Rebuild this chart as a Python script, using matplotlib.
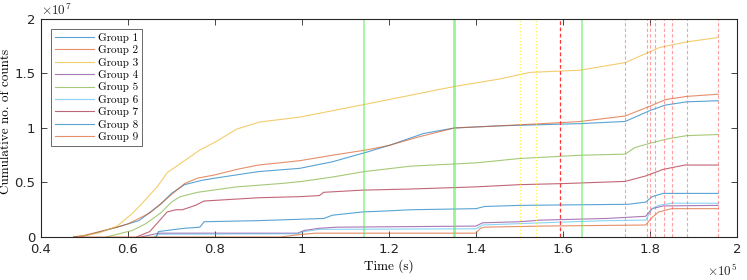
import matplotlib.pyplot as plt
from matplotlib.ticker import FuncFormatter
import numpy as np

# ---------------------------------------------------------------------------
# Data (time in s, cumulative counts)
t1 = [47500, 50000, 57500, 62500, 67500, 70000, 73000, 77000, 80000, 90000, 99500,
      107000, 115000, 120000, 128000, 135000, 145500, 164000, 174300, 180000,
      183500, 188500, 195700]
c1 = [0, 0.1e6, 0.9e6, 1.5e6, 3.0e6, 4.0e6, 4.8e6, 5.2e6, 5.4e6, 6.0e6, 6.3e6,
      6.9e6, 7.8e6, 8.4e6, 9.5e6, 10.0e6, 10.2e6, 10.4e6, 10.6e6, 11.6e6,
      12.1e6, 12.4e6, 12.5e6]

t2 = [47500, 50000, 57500, 60000, 65000, 70000, 73000, 76000, 80000, 85000, 90000,
      99500, 107000, 115000, 120000, 127000, 135000, 145500, 160000, 164000,
      174300, 180000, 183500, 188500, 195700]
c2 = [0, 0.15e6, 0.9e6, 1.2e6, 2.2e6, 3.9e6, 4.9e6, 5.4e6, 5.7e6, 6.2e6, 6.6e6,
      7.0e6, 7.5e6, 8.0e6, 8.4e6, 9.2e6, 10.0e6, 10.2e6, 10.5e6, 10.6e6,
      11.1e6, 12.0e6, 12.6e6, 12.9e6, 13.1e6]

t3 = [48500, 53600, 57500, 61100, 62800, 66700, 69000, 76600, 80000, 85000, 90300,
      99500, 114900, 134900, 145500, 152400, 163900, 174300, 182300, 188500, 195600]
c3 = [0, 0.4e6, 1.0e6, 2.2e6, 2.9e6, 4.6e6, 5.9e6, 8.0e6, 8.7e6, 9.9e6, 10.55e6,
      11.0e6, 12.2e6, 13.8e6, 14.5e6, 15.1e6, 15.3e6, 16.0e6, 17.4e6, 17.9e6, 18.3e6]

t4 = [63000, 67000, 99000, 100500, 104000, 108000, 140000, 141500, 150000, 155000,
      170000, 179000, 180500, 183000, 195700]
c4 = [0, 0.35e6, 0.35e6, 0.6e6, 0.8e6, 0.9e6, 1.0e6, 1.3e6, 1.4e6, 1.55e6,
      1.7e6, 1.9e6, 2.6e6, 2.85e6, 2.9e6]

t5 = [55000, 61000, 64000, 67500, 70000, 72000, 76000, 85000, 95000, 100000, 107000,
      114300, 125000, 140000, 150000, 164000, 174300, 176500, 180000, 184000,
      188500, 195700]
c5 = [0, 0.6e6, 1.2e6, 2.2e6, 3.2e6, 3.7e6, 4.1e6, 4.6e6, 4.9e6, 5.1e6, 5.5e6,
      6.0e6, 6.5e6, 6.8e6, 7.2e6, 7.5e6, 7.6e6, 8.2e6, 8.6e6, 9.0e6,
      9.3e6, 9.4e6]

t6 = [66000, 67000, 99000, 100500, 104000, 140000, 141500, 155000, 170000, 179000,
      180500, 182000, 185000, 195700]
c6 = [0, 0.25e6, 0.3e6, 0.5e6, 0.7e6, 0.75e6, 1.1e6, 1.3e6, 1.5e6, 1.55e6,
      2.6e6, 2.9e6, 3.1e6, 3.1e6]

t7 = [62000, 65000, 67000, 69000, 71000, 72500, 75500, 77500, 90000, 99500, 104000,
      105000, 114000, 125000, 140000, 150000, 160000, 174300, 179000, 183000,
      188000, 195700]
c7 = [0, 0.5e6, 1.4e6, 2.3e6, 2.5e6, 2.5e6, 2.9e6, 3.3e6, 3.6e6, 3.7e6, 3.8e6,
      4.1e6, 4.3e6, 4.4e6, 4.6e6, 4.8e6, 4.9e6, 5.1e6, 5.6e6, 6.2e6,
      6.6e6, 6.6e6]

t8 = [66500, 67000, 73000, 76500, 77500, 90000, 105000, 107000, 114000, 120000,
      125000, 140000, 142000, 150000, 175000, 179000, 180500, 183000, 195700]
c8 = [0, 0.5e6, 0.8e6, 0.9e6, 1.4e6, 1.5e6, 1.7e6, 2.0e6, 2.3e6, 2.4e6,
      2.5e6, 2.6e6, 2.8e6, 2.9e6, 3.0e6, 3.2e6, 3.7e6, 4.0e6, 4.0e6]

t9 = [47500, 95000, 99000, 103000, 140000, 141000, 142000, 155000, 179000, 180500,
      182000, 185000, 195700]
c9 = [0, 0, 0.2e6, 0.35e6, 0.35e6, 0.8e6, 0.9e6, 1.0e6, 1.1e6, 1.8e6,
      2.3e6, 2.6e6, 2.6e6]

times = [t1, t2, t3, t4, t5, t6, t7, t8, t9]
counts = [c1, c2, c3, c4, c5, c6, c7, c8, c9]
labels = ['Group %d' % i for i in range(1, 10)]

# Event markers (s)
green_events = [114300, 134900, 164400]
yellow_events = [150200, 153900]
red_event = [159400]
red_light_events = [174300, 179200, 180100, 181200, 183300, 185100, 188600, 195700]

# ---------------------------------------------------------------------------
# Plot
plt.rcParams['mathtext.fontset'] = 'cm'
plt.rcParams['font.family'] = 'DejaVu Sans'
serif = 'cmr10'

colors = ['#0072BD', '#D95319', '#EDB120', '#7E2F8E', '#77AC30',
          '#4DBEEE', '#A2142F', '#0072BD', '#D95319']

fig = plt.figure(figsize=(7.47, 2.8), dpi=100)
ax = fig.add_axes([0.0549, 0.1536, 0.9317, 0.7786])

for t, c, col, lab in zip(times, counts, colors, labels):
    ax.plot(t, c, color=col, lw=0.8, alpha=0.65, label=lab)

for i, x in enumerate(green_events):
    ax.axvline(x, color='#55EE55', lw=2.0 if i == 1 else 1.2, alpha=0.6)
for x in yellow_events:
    ax.axvline(x, color='#FFEE22', lw=0.9, ls=':', alpha=0.8)
for x in red_event:
    ax.axvline(x, color='#FF2020', lw=0.9, ls=(0, (3, 2)), alpha=0.9)
for x in red_light_events:
    ax.axvline(x, color='#FF6060', lw=0.8, ls=(0, (3, 2)), alpha=0.6)

ax.set_xlim(40000, 200000)
ax.set_ylim(0, 2e7)
ax.set_xticks(np.arange(40000, 200001, 20000))
ax.set_yticks(np.arange(0, 2e7 + 1, 5e6))
ax.xaxis.set_major_formatter(FuncFormatter(lambda v, p: '%g' % round(v / 1e5, 2)))
ax.yaxis.set_major_formatter(FuncFormatter(lambda v, p: '%g' % round(v / 1e7, 2)))
ax.tick_params(direction='in', length=4, width=0.6, colors='#262626',
               top=True, right=True, labelsize=9.5, pad=4)
for s in ax.spines.values():
    s.set_color('#262626')
    s.set_linewidth(0.8)

ax.set_xlabel('Time (s)', fontsize=9.5, family=serif, labelpad=3)
ax.set_ylabel('Cumulative no. of counts', fontsize=9.5, family=serif)
ax.yaxis.set_label_coords(-0.042, 0.53)

ax.text(0.0, 1.005, r'$\times10^{7}$', transform=ax.transAxes, ha='left', va='bottom',
        fontsize=9.5, color='#262626')
ax.text(1.0, -0.12, r'$\times10^{5}$', transform=ax.transAxes, ha='right', va='top',
        fontsize=9.5, color='#262626')

leg = ax.legend(loc='upper left', bbox_to_anchor=(0.0144, 0.955),
                prop={'family': serif, 'size': 8},
                frameon=True, fancybox=False, handlelength=3.5, labelspacing=0.22,
                borderpad=0.35, handletextpad=0.4, borderaxespad=0)
leg.get_frame().set_edgecolor('#262626')
leg.get_frame().set_linewidth(0.6)

fig.savefig('out.png', dpi=100)
